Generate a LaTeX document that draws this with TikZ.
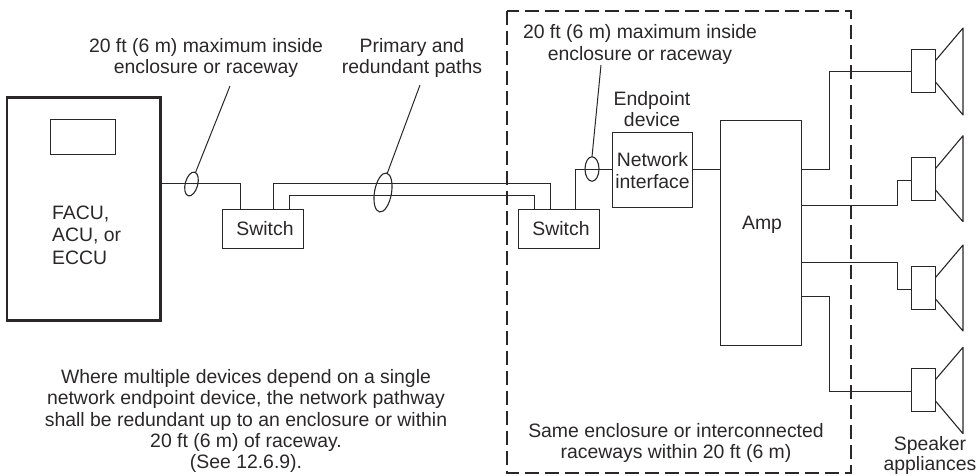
\documentclass[tikz,border=0pt]{standalone}
\usepackage{fontspec}
\setmainfont{Liberation Sans}
\usetikzlibrary{shapes.geometric}
\definecolor{ink}{HTML}{2A2728}
\tikzset{
  every node/.style={text=ink},
  boxnode/.style={draw=ink,line width=1.3pt,inner sep=0pt,outer sep=0pt,rectangle},
  wire/.style={draw=ink,line width=1.6pt},
  leader/.style={draw=ink,line width=1pt},
  loop/.style={draw=ink,line width=1.1pt,ellipse,inner sep=0pt,outer sep=0pt},
  lab/.style={align=center,inner sep=0pt,font=\fontsize{19.4}{21.3}\selectfont},
  cone/.style={draw=ink,line width=1.1pt,line join=round}
}
\newcommand{\speaker}[5]{%
  \node[boxnode,minimum width=24pt,minimum height=#3pt] (#1) at (923.5,#2) {};
  \coordinate (#1a) at (963,#4);
  \coordinate (#1b) at (963,#5);
  \path (#1.north east) ++(0,11) coordinate (#1c);
  \path (#1.south east) ++(0,-10.5) coordinate (#1d);
  \draw[cone] (#1c) -- (#1a) -- (#1b) -- (#1d);
}
\begin{document}
\begin{tikzpicture}[x=1pt,y=-1pt]
\useasboundingbox (0,0) rectangle (976,475);
% enclosure
\coordinate (ea) at (507,11);
\coordinate (eb) at (851,473);
\draw[draw=ink,line width=1.2pt,dash pattern=on 14pt off 6pt] (ea) rectangle (eb);
% FACU
\node[draw=ink,line width=2.2pt,inner sep=0pt,outer sep=0pt,minimum width=153.5pt,minimum height=223pt] (facu) at (83.7,209) {};
\node[boxnode,minimum width=65pt,minimum height=35pt] (disp) at (83,137) {};
\node[lab,align=left,anchor=west,font=\fontsize{19.4}{22.6}\selectfont] (facutxt) at (52,235) {FACU,\\ACU, or\\ECCU};
% switches
\node[boxnode,minimum width=81pt,minimum height=39pt] (swa) at (263,229) {};
\node[lab] (swatxt) at (265,228.5) {Switch};
\node[boxnode,minimum width=81pt,minimum height=39pt] (swb) at (559,229) {};
\node[lab] (swbtxt) at (561,228.5) {Switch};
% network interface
\node[boxnode,minimum width=80pt,minimum height=75pt] (net) at (652.5,170) {};
\node[lab] (nettxt) at (652.5,170.5) {Network\\interface};
\node[lab] (endtxt) at (652,109) {Endpoint\\device};
% amp
\node[boxnode,minimum width=81pt,minimum height=225pt] (amp) at (761,233) {};
\node[lab] (amptxt) at (762,224.5) {Amp};
% speakers
\speaker{spa}{71}{43}{28}{115}
\speaker{spb}{179}{43}{135.7}{221.7}
\speaker{spc}{288}{43}{245}{331}
\speaker{spd}{390}{43}{347.3}{433.7}
% wires
\path (facu.north east) ++(0,86) coordinate (fo);
\draw[wire] (fo) -| ([xshift=18pt]swa.north west);
\draw[wire] ([xshift=51pt]swa.north west) |- (550.5,183.5) coordinate (pa) -- (pa |- swb.north);
\draw[wire] ([xshift=67pt]swa.north west) |- (534.5,195.5) coordinate (pb) -- (pb |- swb.north);
\path (net.west) ++(0,-0.5) coordinate (nw);
\path (net.east) ++(0,-0.5) coordinate (ne);
\draw[wire] ([xshift=57pt]swb.north west) |- (nw);
\draw[wire] (ne) -- (ne -| amp.west);
\path (amp.north east) ++(0,49) coordinate (a1);
\path (amp.north east) ++(0,85) coordinate (a2);
\path (amp.north east) ++(0,142) coordinate (a3);
\path (amp.north east) ++(0,176) coordinate (a4);
\coordinate (b1) at (829.5,120);
\coordinate (b2) at (897.5,120);
\path (spa.west) ++(0,0.5) coordinate (sa);
\path (spb.west) ++(0,1.5) coordinate (sb);
\path (spc.west) ++(0,1.5) coordinate (sc);
\path (spd.west) ++(0,1.5) coordinate (sd);
\draw[wire] (a1) -- (a1 -| b1) -- (b1 |- sa) -- (sa);
\draw[wire] (a2) -- (a2 -| b2) -- (b2 |- sb) -- (sb);
\draw[wire] (a3) -- (a3 -| b2) -- (b2 |- sc) -- (sc);
\draw[wire] (a4) -- (a4 -| b1) -- (b1 |- sd) -- (sd);
% cable bundles
\node[loop,minimum width=12.5pt,minimum height=24.5pt,rotate=-15] (la) at (191.5,184) {};
\node[loop,minimum width=17pt,minimum height=39.5pt,rotate=-10] (lb) at (383,192.5) {};
\node[loop,minimum width=14pt,minimum height=24.5pt] (lc) at (592,169) {};
\coordinate (lat) at (230,86);
\coordinate (lbt) at (420,85);
\coordinate (lct) at (601,65);
\draw[leader] (lat) -- (195.5,172.5) coordinate (lae);
\draw[leader] (lbt) -- (387,174) coordinate (lbe);
\draw[leader] (lct) -- (lc.north);
% labels
\node[lab] (t1) at (206,58) {20 ft (6 m) maximum inside\\enclosure or raceway};
\node[lab] (t2) at (412,58) {Primary and\\redundant paths};
\node[lab] (t3) at (640,44.5) {20 ft (6 m) maximum inside\\enclosure or raceway};
\node[lab] (t4) at (246,421) {Where multiple devices depend on a single\\network endpoint device, the network pathway\\shall be redundant up to an enclosure or within\\20 ft (6 m) of raceway.\\(See 12.6.9).};
\node[lab] (t5) at (676,443) {Same enclosure or interconnected\\raceways within 20 ft (6 m)};
\node[lab,font=\fontsize{19.4}{20}\selectfont] (t6) at (930,455) {Speaker\\appliances};
\end{tikzpicture}
\end{document}
